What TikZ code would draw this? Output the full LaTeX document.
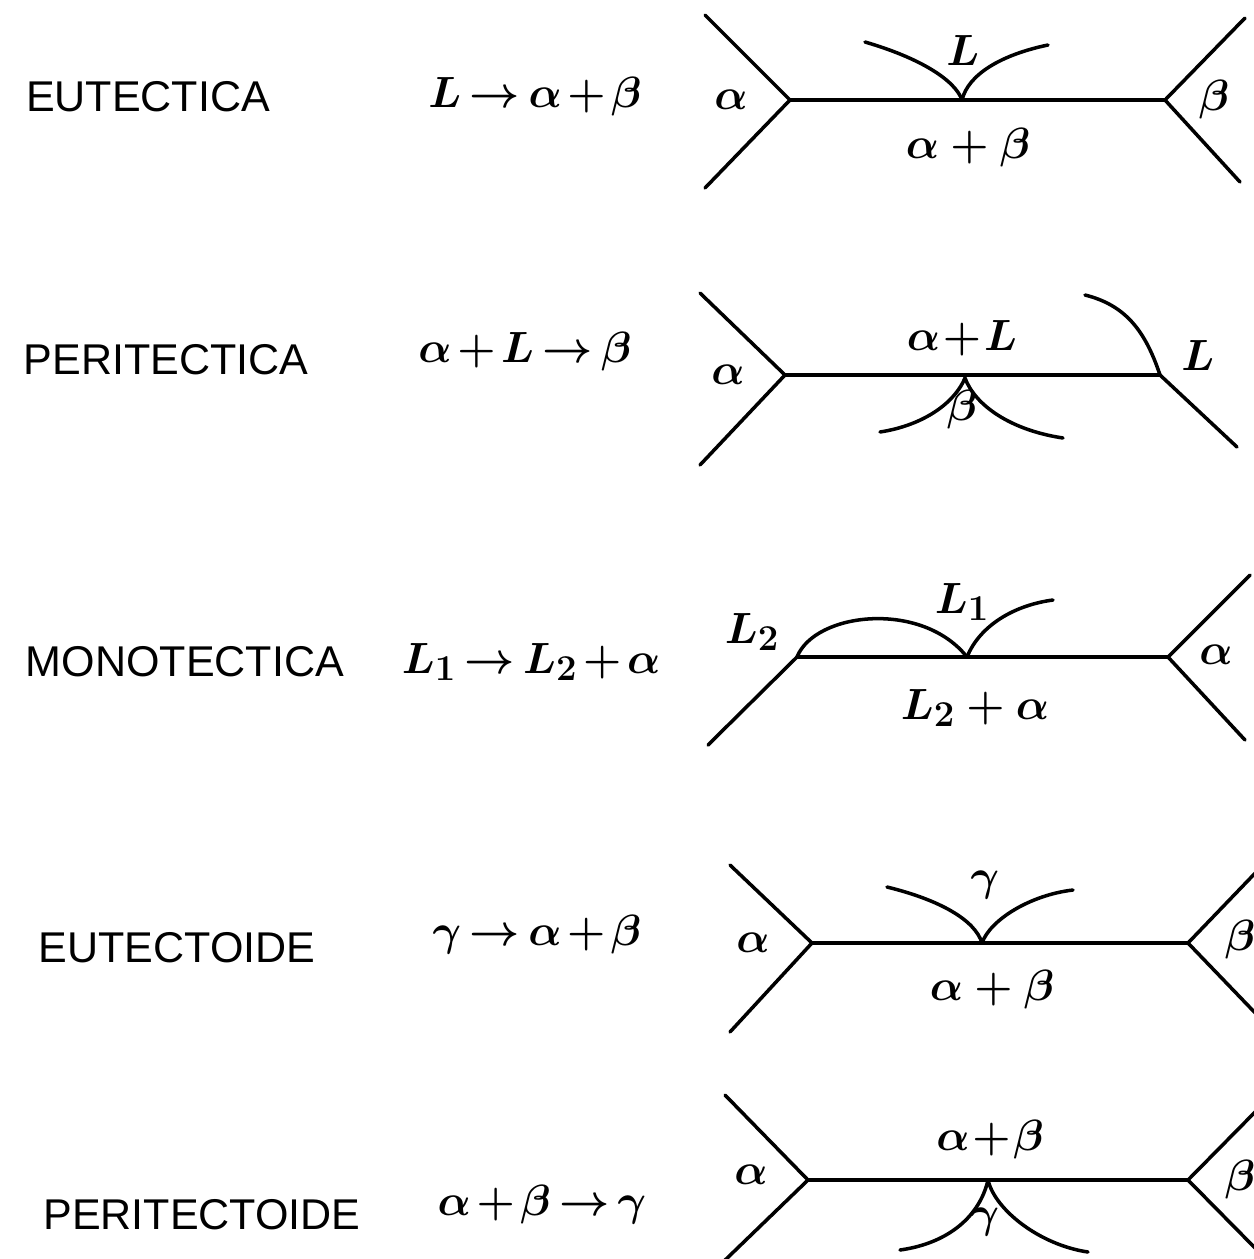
\documentclass[tikz,border=0pt]{standalone}
\usepackage{fontspec}
\newfontfamily\lab{Liberation Sans}
\newcommand\tightmath{\medmuskip=2mu\relax\thickmuskip=3mu\relax}
\begin{document}
\begin{tikzpicture}[x=0.02cm,y=-0.02cm,
  ln/.style={line width=2pt,line cap=round},
  rowlabel/.style={font=\lab\fontsize{24.5}{28}\selectfont,inner sep=0pt},
  eq/.style={font={\fontsize{28.5}{32}\selectfont\boldmath\tightmath},inner sep=0pt},
  ph/.style={font=\fontsize{30}{34}\selectfont\boldmath,inner sep=0pt}]
\useasboundingbox[fill=white] (0,0) rectangle (1254,1259);
% ---------- Row 1: EUTECTICA
\node[rowlabel] (c1) at (148,97) {EUTECTICA};
\node[eq] (e1) at (535,97) {$L\rightarrow\alpha+\beta$};
\coordinate (a1) at (790,100); \coordinate (b1) at (1165,100); \coordinate (m1) at (962,100);
\draw[ln] (705,15) -- (a1) -- (705,188);
\draw[ln] (a1) -- (b1);
\draw[ln] (1245,18) -- (b1) -- (1240,182);
\draw[ln] (865,42) .. controls (920,58) and (955,80) .. (m1);
\draw[ln] (m1) .. controls (968,75) and (1000,55) .. (1048,45);
\node[ph] (p1a) at (731,100) {$\alpha$};
\node[ph] (p1b) at (1214,100) {$\beta$};
\node[ph] (p1L) at (963,50) {$L$};
\node[ph] (p1ab) at (968,148) {$\alpha+\beta$};
% ---------- Row 2: PERITECTICA
\node[rowlabel] (c2) at (166,360) {PERITECTICA};
\node[eq] (e2) at (525,352) {$\alpha+L\rightarrow\beta$};
\coordinate (a2) at (785,375); \coordinate (b2) at (1160,375); \coordinate (m2) at (965,378);
\draw[ln] (700,293) -- (a2) -- (700,465);
\draw[ln] (a2) -- (b2);
\draw[ln] (1085,295) .. controls (1125,305) and (1145,330) .. (b2) -- (1237,447);
\draw[ln] (880,432) .. controls (925,425) and (955,402) .. (m2);
\draw[ln] (m2) .. controls (975,405) and (1010,430) .. (1063,438);
\node[ph] (p2a) at (728,375) {$\alpha$};
\node[ph] (p2L) at (1198,355) {$L$};
\node[ph] (p2aL) at (962,338) {$\alpha\!+\!L$};
\node[ph] (p2b) at (962,410) {$\beta$};
% ---------- Row 3: MONOTECTICA
\node[rowlabel] (c3) at (185,662) {MONOTECTICA};
\node[eq] (e3) at (531,662) {$L_1\rightarrow L_2+\alpha$};
\coordinate (a3) at (797,657); \coordinate (b3) at (1168,657); \coordinate (m3) at (967,657);
\draw[ln] (a3) -- (708,745);
\draw[ln] (a3) -- (b3);
\draw[ln] (1250,575) -- (b3) -- (1245,740);
\draw[ln] (a3) .. controls (815,612) and (922,600) .. (m3);
\draw[ln] (m3) .. controls (980,625) and (1015,605) .. (1053,600);
\node[ph] (p3L2) at (752,632) {$L_2$};
\node[ph] (p3L1) at (962,602) {$L_1$};
\node[ph] (p3a) at (1216,655) {$\alpha$};
\node[ph] (p3La) at (975,708) {$L_2+\alpha$};
% ---------- Row 4: EUTECTOIDE
\node[rowlabel] (c4) at (177,948) {EUTECTOIDE};
\node[eq] (e4) at (537,935) {$\gamma\rightarrow\alpha+\beta$};
\coordinate (a4) at (812,943); \coordinate (b4) at (1188,943); \coordinate (m4) at (982,943);
\draw[ln] (730,865) -- (a4) -- (730,1032);
\draw[ln] (a4) -- (b4);
\draw[ln] (1262,866) -- (b4) -- (1262,1020);
\draw[ln] (887,887) .. controls (940,900) and (975,920) .. (m4);
\draw[ln] (m4) .. controls (990,920) and (1030,895) .. (1073,890);
\node[ph] (p4a) at (753,943) {$\alpha$};
\node[ph] (p4b) at (1240,940) {$\beta$};
\node[ph] (p4g) at (985,885) {$\gamma$};
\node[ph] (p4ab) at (992,990) {$\alpha+\beta$};
% ---------- Row 5: PERITECTOIDE
\node[rowlabel] (c5) at (202,1215) {PERITECTOIDE};
\node[eq] (e5) at (542,1205) {$\alpha+\beta\rightarrow\gamma$};
\coordinate (a5) at (808,1180); \coordinate (b5) at (1188,1180); \coordinate (m5) at (988,1180);
\draw[ln] (725,1095) -- (a5) -- (720,1265);
\draw[ln] (a5) -- (b5);
\draw[ln] (1262,1105) -- (b5) -- (1262,1255);
\draw[ln] (900,1250) .. controls (950,1243) and (980,1215) .. (m5);
\draw[ln] (m5) .. controls (995,1210) and (1040,1245) .. (1088,1252);
\node[ph] (p5a) at (751,1175) {$\alpha$};
\node[ph] (p5b) at (1240,1180) {$\beta$};
\node[ph] (p5g) at (985,1222) {$\gamma$};
\node[ph] (p5ab) at (990,1140) {$\alpha\!+\!\beta$};
\end{tikzpicture}
\end{document}
